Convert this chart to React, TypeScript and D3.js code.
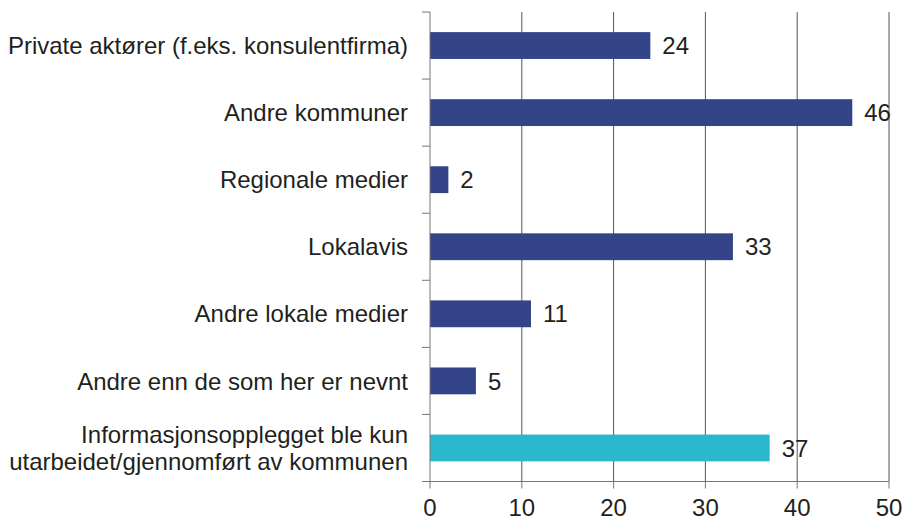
import React from 'react';
import * as d3 from 'd3';

const categories = [
  ['Private aktører (f.eks. konsulentfirma)'],
  ['Andre kommuner'],
  ['Regionale medier'],
  ['Lokalavis'],
  ['Andre lokale medier'],
  ['Andre enn de som her er nevnt'],
  ['Informasjonsopplegget ble kun', 'utarbeidet/gjennomført av kommunen'],
];
const values = [24, 46, 2, 33, 11, 5, 37];
const barColors = ['#334489', '#334489', '#334489', '#334489', '#334489', '#334489', '#2bb7cd'];
const xTicks = [0, 10, 20, 30, 40, 50];

const W = 908;
const H = 516;
const left = 430;
const right = 889;
const top = 12;
const bottom = 481.5;
const font = 'Liberation Sans, Arial, sans-serif';
const fs = 24;

export default function App() {
  const x = d3.scaleLinear().domain([0, 50]).range([left, right]);
  const y = d3.scaleBand<number>().domain(d3.range(categories.length)).range([top, bottom]).paddingInner(0.6).paddingOuter(0.3);
  const band = d3.scaleBand<number>().domain(d3.range(categories.length)).range([top, bottom]);
  const bounds = d3.range(categories.length + 1).map((i) => top + i * band.step());

  return (
    <svg width={W} height={H} style={{ position: 'absolute', left: 0, top: 0 }} fontFamily={font}>
      {xTicks.slice(1).map((t) => (
        <line key={t} x1={x(t)} x2={x(t)} y1={top} y2={bottom} stroke="#555" strokeWidth={1} />
      ))}
      {values.map((v, i) => (
        <rect key={i} x={x(0)} y={y(i)} width={x(v) - x(0)} height={y.bandwidth()} fill={barColors[i]} />
      ))}
      {values.map((v, i) => (
        <text key={i} x={x(v) + 12} y={(y(i) as number) + y.bandwidth() / 2} dy="0.36em" fontSize={fs} fill="#231f20">
          {v}
        </text>
      ))}
      <line x1={left} x2={left} y1={top} y2={bottom} stroke="#777" />
      {bounds.map((b, i) => (
        <line key={i} x1={left - 8} x2={left} y1={b} y2={b} stroke="#777" />
      ))}
      <line x1={left - 8} x2={right} y1={bottom} y2={bottom} stroke="#777" />
      {xTicks.map((t) => (
        <g key={t}>
          <line x1={x(t)} x2={x(t)} y1={bottom} y2={bottom + 7} stroke="#777" />
          <text x={x(t)} y={bottom + 34} textAnchor="middle" fontSize={fs} fill="#231f20">
            {t}
          </text>
        </g>
      ))}
      {categories.map((lines, i) => {
        const cy = (y(i) as number) + y.bandwidth() / 2;
        return (
          <text key={i} x={408} textAnchor="end" fontSize={fs} fill="#231f20">
            {lines.map((l, j) => (
              <tspan key={j} x={408} y={cy + (j - (lines.length - 1) / 2) * 27} dy="0.36em">
                {l}
              </tspan>
            ))}
          </text>
        );
      })}
    </svg>
  );
}
